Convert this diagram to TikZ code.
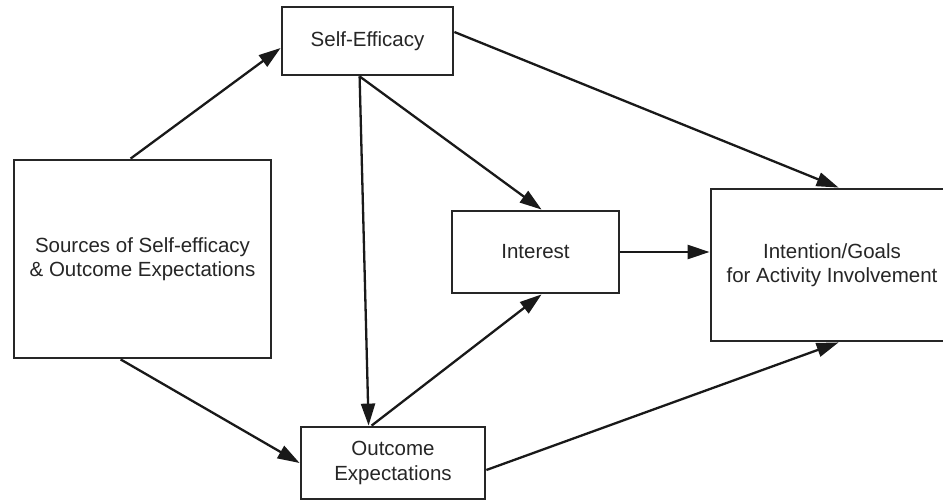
\documentclass[tikz,border=0pt]{standalone}
\usepackage{fontspec}
\setmainfont{Liberation Sans}
\usetikzlibrary{arrows.meta,calc}
\begin{document}
\begin{tikzpicture}[x=1pt,y=-1pt,
  box/.style={draw=black!85,line width=2.8pt,fill=white,inner sep=0pt,align=center,
    font=\fontsize{20.5}{24.5}\selectfont,text=black!85},
  conn/.style={line width=2.3pt,draw=black!90,-{Triangle[length=22pt,width=14pt]}}]
\useasboundingbox (0,0) rectangle (943,500);
\node[box,minimum width=257pt,minimum height=198pt] (src) at (142.5,259) {Sources of Self-efficacy\\\& Outcome Expectations};
\node[box,minimum width=171pt,minimum height=68pt] (se) at (367.5,41) {Self-Efficacy};
\node[box,minimum width=167pt,minimum height=82pt] (int) at (535.5,252) {Interest};
\node[box,minimum width=242pt,minimum height=152pt] (ig) at (832,265) {Intention/Goals\\for Activity Involvement};
\node[box,minimum width=184pt,minimum height=72pt] (oe) at (393,463) {Outcome\\Expectations};
\draw[conn] ([xshift=118pt]src.north west) -- ([yshift=-7pt]se.west);
\draw[conn] ([xshift=108pt]src.south west) -- (oe.west);
\draw[conn] ([xshift=79pt]se.south west) -- ([xshift=69pt]oe.north west);
\draw[conn] ([xshift=79pt]se.south west) -- ([xshift=91pt]int.north west);
\draw[conn] ([yshift=9pt]se.east) -- ([xshift=129pt]ig.north west);
\draw[conn] ([xshift=72pt]oe.north west) -- ([xshift=91pt]int.south west);
\draw[conn] (int.east) -- (int.east -| ig.west);
\draw[conn] ([yshift=-7pt]oe.east) -- ([xshift=129pt]ig.south west);
\end{tikzpicture}
\end{document}
